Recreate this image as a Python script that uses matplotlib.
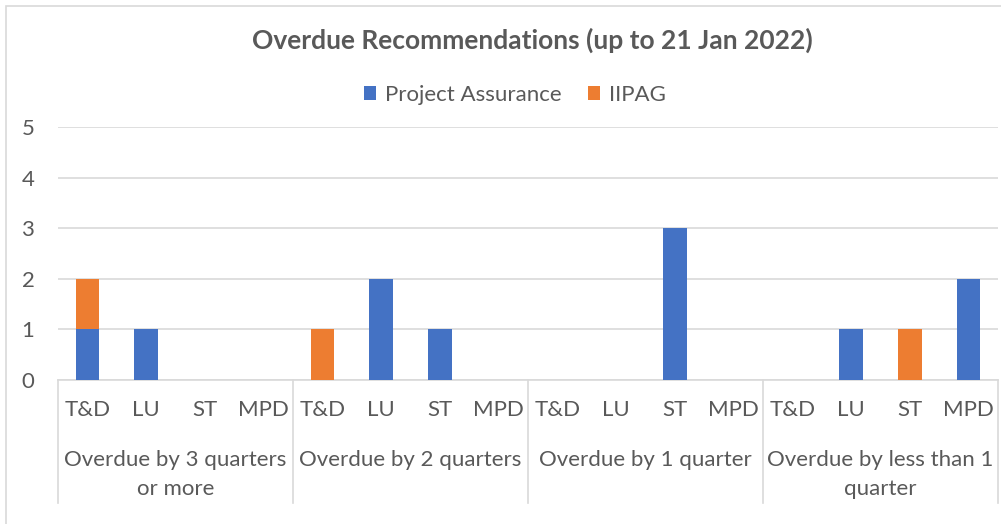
import matplotlib
matplotlib.use('Agg')
import matplotlib.pyplot as plt
from matplotlib.patches import Rectangle
import numpy as np

# Data
groups = ['Overdue by 3 quarters\nor more', 'Overdue by 2 quarters',
          'Overdue by 1 quarter', 'Overdue by less than 1\nquarter']
teams = ['T&D', 'LU', 'ST', 'MPD']
project_assurance = [1, 1, 0, 0, 0, 2, 1, 0, 0, 0, 3, 0, 0, 1, 0, 2]
iipag = [1, 0, 0, 0, 1, 0, 0, 0, 0, 0, 0, 0, 0, 0, 1, 0]
title = 'Overdue Recommendations (up to 21 Jan 2022)'

blue = '#4472C4'
orange = '#ED7D31'
text_col = '#595959'
grid_col = '#D9D9D9'

plt.rcParams['font.family'] = ['Lato', 'DejaVu Sans']

W, H = 1001, 524
fig = plt.figure(figsize=(W / 100, H / 100), dpi=100)

# outer chart border
fig.patches.append(Rectangle((6 / W, -0.01), 1.02, 1 - 6 / H + 0.01,
                             transform=fig.transFigure, fill=False,
                             edgecolor=grid_col, linewidth=1.2))

ax = fig.add_axes([58 / W, (H - 380) / H, 940 / W, 253 / H])

n = len(project_assurance)
x = np.arange(n)
pa = np.array(project_assurance)
ii = np.array(iipag)
ax.bar(x, pa, width=0.4, color=blue, label='Project Assurance', zorder=3)
ax.bar(x, ii, width=0.4, bottom=pa, color=orange, label='IIPAG', zorder=3)

ax.set_xlim(-0.5, n - 0.5)
ax.set_ylim(0, 5)
ax.set_yticks(range(0, 6))
ax.grid(axis='y', color=grid_col, linewidth=1.2, zorder=0)
ax.tick_params(axis='y', length=0, pad=17, labelsize=16, labelcolor=text_col)
ax.set_xticks([])
for s in ['top', 'right', 'left']:
    ax.spines[s].set_visible(False)
ax.spines['bottom'].set_color(grid_col)
ax.spines['bottom'].set_linewidth(1.2)

# category labels
trans = ax.get_xaxis_transform()
for i in range(n):
    ax.text(i, -30 / 253, teams[i % 4], transform=trans, ha='center',
            va='center', fontsize=16, color=text_col)

# group labels and separators
for g, name in enumerate(groups):
    cx = g * 4 + 1.5
    ax.text(cx, -70 / 253, name, transform=trans, ha='center', va='top',
            fontsize=16, color=text_col, linespacing=1.55)
for b in range(5):
    xb = b * 4 - 0.5
    ax.plot([xb, xb], [0, -123 / 253], transform=trans, color=grid_col,
            linewidth=1.2, clip_on=False)

fig.text(532 / W, 1 - 40 / H, title, ha='center', va='center',
         fontsize=19, fontweight='bold', color=text_col)

fig.legend(loc='center', bbox_to_anchor=(515 / W, 1 - 95 / H), ncol=2,
           frameon=False, fontsize=16, labelcolor=text_col,
           handlelength=0.55, handleheight=0.55, handletextpad=0.4,
           columnspacing=1.2)

fig.savefig('out.png', dpi=100)
